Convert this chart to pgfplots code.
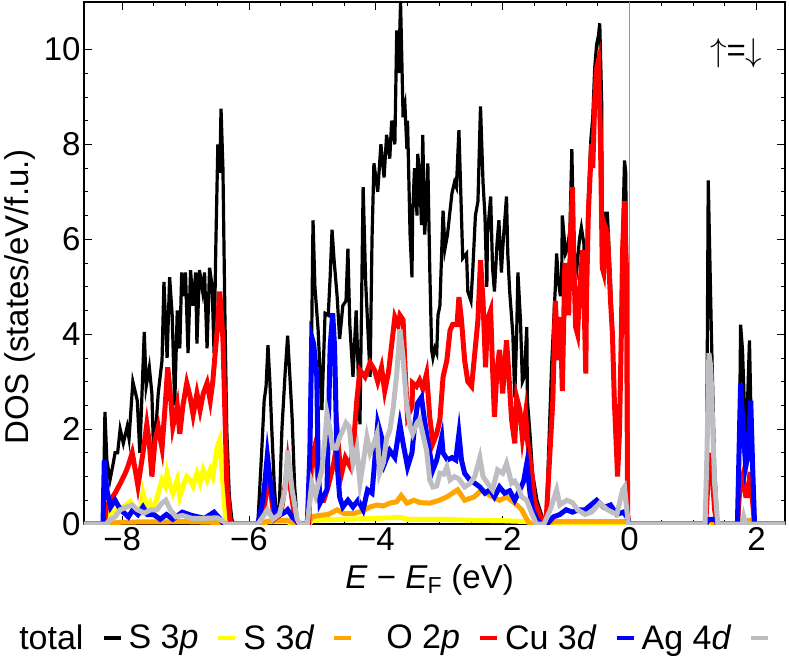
\RequirePackage{fix-cm}
\documentclass[border=0pt]{standalone}
\usepackage{fontspec}
\setmainfont{Liberation Sans}
\usepackage{pgfplots}
\pgfplotsset{compat=1.18}
\definecolor{cyel}{RGB}{255,255,0}
\definecolor{corange}{RGB}{255,165,0}
\definecolor{cred}{RGB}{255,0,0}
\definecolor{cblue}{RGB}{0,0,255}
\definecolor{cgray}{RGB}{190,190,194}
\definecolor{zeroline}{RGB}{150,150,150}
\newcommand{\bigfont}{\fontsize{33bp}{39bp}\selectfont}
\newcommand{\legfont}{\fontsize{34bp}{40bp}\selectfont}
\begin{document}
\begin{tikzpicture}
\useasboundingbox (-84bp,-132bp) rectangle (705bp,524bp);
\begin{axis}[
  scale only axis,
  width=701bp, height=522bp,
  xmin=-8.6, xmax=2.45, ymin=0, ymax=11,
  xtick={-8,-6,-4,-2,0,2},
  xticklabels={−8,−6,−4,−2,0,2},
  ytick={0,2,4,6,8,10},
  yticklabels={0,2,4,6,8,10},
  minor x tick num=3, minor y tick num=3,
  major tick length=8bp, minor tick length=4bp,
  tick style={black, line width=0.8bp},
  axis line style={line width=1.6bp},
  tick label style={font=\bigfont},
  label style={font=\bigfont},
  xlabel={\textit{E} − \textit{E}\textsubscript{F} (eV)},
  ylabel={DOS (states/eV/f.u.)},
  xlabel style={at={(axis description cs:0.493,-0.108)}, anchor=center},
  ylabel style={at={(axis description cs:-0.092,0.435)}, anchor=center},
  legend columns=6,
  legend plot pos=right,
  legend cell align=right,
  legend style={draw=none, fill=none, font=\legfont,
    at={(0.442,-0.185)}, anchor=north,
    nodes={inner sep=2bp},
    /tikz/every odd column/.append style={column sep=16bp},
    /tikz/every even column/.append style={column sep=4bp}},
  legend image code/.code={\draw[#1, line width=4bp] (0bp,0bp) -- (17bp,0bp);},
]
\addplot[zeroline, line width=1bp, forget plot] coordinates {(0,0) (0,11)};

% total
\addplot[black, line width=3.2bp] coordinates {
(-8.60,0) (-8.30,0) (-8.27,2.36) (-8.24,1.35) (-8.19,0.93) (-8.15,1.2) (-8.11,1.5) (-8.07,1.5) (-8.03,2.0) (-7.98,1.7) (-7.92,2.05) (-7.89,1.8) (-7.83,3.0) (-7.76,2.6) (-7.72,1.5) (-7.65,4.05) (-7.62,2.9) (-7.57,3.3) (-7.53,2.75) (-7.50,1.35) (-7.43,2.75) (-7.37,3.45) (-7.34,5.1) (-7.29,3.5) (-7.25,5.2) (-7.21,4.4) (-7.17,2.5) (-7.13,4.5) (-7.09,3.7) (-7.06,5.3) (-7.04,4.8) (-7.00,5.3) (-6.96,3.6) (-6.92,5.35) (-6.88,4.6) (-6.84,5.3) (-6.82,3.8) (-6.78,5.35) (-6.73,4.9) (-6.70,5.3) (-6.66,3.7) (-6.62,5.4) (-6.58,5.0) (-6.55,3.6) (-6.52,6.0) (-6.49,8.0) (-6.46,7.4) (-6.44,8.75) (-6.41,7.5) (-6.38,4.5) (-6.35,2.0) (-6.31,0.6) (-6.27,0.1) (-6.24,0)
(-5.86,0) (-5.80,1.5) (-5.76,2.6) (-5.73,2.9) (-5.70,3.77) (-5.67,3.0) (-5.64,2.0) (-5.60,0.8) (-5.56,0.05) (-5.52,0.4) (-5.48,2.0) (-5.43,3.17) (-5.39,3.97) (-5.35,3.0) (-5.32,2.26) (-5.28,0.8) (-5.24,0.08) (-5.20,0)
(-5.08,0) (-5.03,2.0) (-5.01,4.08) (-4.99,6.4) (-4.96,5.0) (-4.91,4.1) (-4.85,2.4) (-4.80,4.44) (-4.75,4.4) (-4.72,5.2) (-4.69,6.2) (-4.66,5.6) (-4.61,4.8) (-4.57,3.9) (-4.52,4.6) (-4.47,4.7) (-4.44,5.8) (-4.41,4.2) (-4.36,3.1) (-4.31,4.5) (-4.25,2.1) (-4.20,7.1) (-4.16,5.1) (-4.09,3.1) (-4.06,6.0) (-4.03,7.6) (-3.97,7.0) (-3.92,8.0) (-3.87,7.3) (-3.83,8.2) (-3.78,7.7) (-3.75,8.5) (-3.70,8.0) (-3.67,10.4) (-3.64,9.5) (-3.61,11.0) (-3.57,8.57) (-3.54,8.8) (-3.51,7.9) (-3.50,8.5) (-3.46,6.1) (-3.43,5.2) (-3.42,6.5) (-3.39,7.5) (-3.35,6.5) (-3.34,7.8) (-3.31,7.4) (-3.28,6.3) (-3.26,8.2) (-3.23,6.1) (-3.20,6.8) (-3.18,7.6) (-3.15,5.4) (-3.12,3.67) (-3.10,3.5) (-3.07,3.7) (-3.04,3.6) (-3.02,4.4) (-2.99,4.6) (-2.94,6.6) (-2.91,5.8) (-2.87,6.1) (-2.83,6.6) (-2.80,6.97) (-2.76,7.2) (-2.73,7.1) (-2.69,8.3) (-2.65,6.5) (-2.63,5.6) (-2.57,5.7) (-2.55,4.9) (-2.50,4.7) (-2.47,5.4) (-2.43,6.5) (-2.39,6.8) (-2.35,8.8) (-2.31,7.2) (-2.28,6.5) (-2.25,5.0) (-2.24,6.1) (-2.19,6.9) (-2.16,5.4) (-2.13,4.9) (-2.09,5.9) (-2.06,6.4) (-2.02,5.3) (-2.00,5.8) (-1.94,6.9) (-1.92,5.7) (-1.89,4.9) (-1.84,4.0) (-1.81,2.67) (-1.78,4.0) (-1.76,5.3) (-1.72,4.3) (-1.69,3.0) (-1.66,3.1) (-1.62,4.15) (-1.61,2.6) (-1.57,1.9) (-1.53,1.07) (-1.46,0.5) (-1.39,0.2) (-1.35,0.05)
(-1.31,0.2) (-1.23,3.3) (-1.17,5.0) (-1.15,5.7) (-1.12,5.1) (-1.09,4.8) (-1.07,5.2) (-1.06,6.5) (-1.01,5.7) (-0.98,5.8) (-0.94,6.2) (-0.91,7.9) (-0.90,7.2) (-0.88,5.8) (-0.83,5.4) (-0.79,6.0) (-0.76,6.25) (-0.72,5.9) (-0.69,4.0) (-0.66,6.5) (-0.61,8.1) (-0.58,8.57) (-0.55,9.6) (-0.52,10.1) (-0.49,10.3) (-0.47,10.55) (-0.44,8.9) (-0.43,6.1) (-0.41,5.5) (-0.38,6.55) (-0.35,6.55) (-0.30,5.1) (-0.27,4.0) (-0.24,2.6) (-0.20,1.4) (-0.19,1.05) (-0.16,1.95) (-0.13,4.1) (-0.11,6.0) (-0.08,7.66) (-0.06,7.4) (-0.05,5.5) (-0.03,0.2) (-0.01,0)
(1.18,0) (1.21,0.1) (1.24,7.24) (1.29,4.0) (1.34,1.2) (1.39,0) (1.70,0) (1.72,0.2) (1.75,4.2) (1.78,3.67) (1.83,1.7) (1.86,2.6) (1.89,3.87) (1.92,1.9) (1.97,0) (2.45,0)
};
\addlegendentry{total}

% yellow
\addplot[cyel, line width=5bp] coordinates {
(-8.60,0) (-8.28,0) (-8.19,0.23) (-8.08,0.3) (-7.98,0.36) (-7.87,0.47) (-7.80,0.3) (-7.72,0.23) (-7.67,0.65) (-7.61,0.33) (-7.56,0.45) (-7.51,0.25) (-7.43,0.65) (-7.37,0.93) (-7.32,0.8) (-7.29,1.07) (-7.24,0.8) (-7.20,0.65) (-7.13,0.93) (-7.09,0.58) (-7.04,0.8) (-6.98,1.0) (-6.93,0.93) (-6.88,0.8) (-6.82,1.07) (-6.77,0.87) (-6.72,1.14) (-6.66,0.93) (-6.61,1.14) (-6.57,1.0) (-6.50,1.62) (-6.46,1.77) (-6.43,1.2) (-6.38,0.3) (-6.35,0)
(-5.80,0) (-5.70,0.05) (-5.40,0.05) (-5.30,0) (-5.05,0) (-5.00,0.08) (-4.50,0.1) (-4.00,0.12) (-3.60,0.14) (-3.50,0.1) (-3.00,0.1) (-2.50,0.08) (-2.00,0.07) (-1.60,0.05) (-1.50,0) (2.45,0)
};
\addlegendentry{S 3\textit{p}}

% orange
\addplot[corange, line width=5bp] coordinates {
(-8.60,0) (-8.30,0) (-8.00,0.04) (-7.00,0.05) (-6.40,0.03) (-6.30,0) (-5.85,0) (-5.70,0.06) (-5.40,0.08) (-5.25,0)
(-5.06,0) (-5.01,0.15) (-4.90,0.18) (-4.75,0.2) (-4.61,0.3) (-4.50,0.22) (-4.35,0.22) (-4.20,0.28) (-4.09,0.36) (-3.98,0.4) (-3.88,0.38) (-3.78,0.44) (-3.67,0.47) (-3.60,0.6) (-3.51,0.44) (-3.40,0.5) (-3.30,0.45) (-3.15,0.44) (-3.00,0.5) (-2.88,0.57) (-2.71,0.72) (-2.60,0.5) (-2.45,0.57) (-2.33,0.72) (-2.20,0.6) (-2.05,0.5) (-1.94,0.57) (-1.81,0.44) (-1.70,0.3) (-1.62,0.1) (-1.57,0)
(-1.30,0) (-1.20,0.05) (-0.50,0.05) (-0.02,0.05) (0.00,0) (1.20,0) (1.25,0.08) (1.35,0) (1.72,0) (1.75,0.05) (1.90,0.08) (1.97,0) (2.45,0)
};
\addlegendentry{S 3\textit{d}}

% red
\addplot[cred, line width=5bp] coordinates {
(-8.60,0) (-8.28,0) (-8.24,0.4) (-8.20,0.35) (-8.16,0.55) (-8.11,0.65) (-8.03,0.85) (-7.95,1.07) (-7.91,1.2) (-7.84,1.5) (-7.80,1.2) (-7.75,0.8) (-7.67,1.5) (-7.61,2.1) (-7.57,1.7) (-7.53,1.0) (-7.48,1.77) (-7.43,2.05) (-7.37,1.6) (-7.32,2.5) (-7.28,3.3) (-7.23,2.6) (-7.20,2.05) (-7.13,2.5) (-7.09,1.9) (-7.04,2.5) (-6.98,2.97) (-6.93,2.7) (-6.88,2.3) (-6.82,2.75) (-6.77,2.4) (-6.72,2.75) (-6.66,2.97) (-6.61,2.6) (-6.57,3.0) (-6.50,4.1) (-6.46,4.9) (-6.41,3.9) (-6.35,0.9) (-6.30,0.1) (-6.27,0)
(-5.86,0) (-5.76,0.3) (-5.72,0.8) (-5.69,1.0) (-5.65,0.6) (-5.60,0.1) (-5.50,0.2) (-5.43,0.8) (-5.39,1.3) (-5.35,0.8) (-5.28,0.15) (-5.22,0)
(-5.06,0) (-5.01,1.4) (-4.97,1.6) (-4.93,1.2) (-4.88,0.5) (-4.82,0.5) (-4.75,0.8) (-4.66,1.3) (-4.60,1.83) (-4.55,1.0) (-4.48,1.4) (-4.40,1.2) (-4.35,1.7) (-4.30,2.6) (-4.25,3.24) (-4.17,3.1) (-4.09,3.4) (-4.02,3.24) (-3.97,3.0) (-3.91,3.3) (-3.86,2.8) (-3.80,3.2) (-3.70,4.36) (-3.65,4.2) (-3.62,4.4) (-3.57,4.3) (-3.54,3.3) (-3.50,2.26) (-3.43,2.47) (-3.42,2.97) (-3.36,2.9) (-3.31,3.03) (-3.26,2.85) (-3.20,3.17) (-3.15,2.26) (-3.10,1.7) (-3.04,1.9) (-2.99,2.2) (-2.94,3.1) (-2.88,3.45) (-2.83,4.08) (-2.79,4.2) (-2.72,4.2) (-2.69,4.78) (-2.65,4.3) (-2.60,3.45) (-2.55,3.0) (-2.49,2.9) (-2.44,3.6) (-2.39,4.3) (-2.35,5.56) (-2.31,4.7) (-2.27,3.3) (-2.24,4.3) (-2.19,4.5) (-2.16,3.3) (-2.13,2.26) (-2.09,3.24) (-2.05,3.67) (-2.00,2.75) (-1.94,3.87) (-1.91,3.3) (-1.86,2.2) (-1.81,1.7) (-1.78,2.67) (-1.73,2.4) (-1.69,1.83) (-1.64,2.33) (-1.61,1.77) (-1.54,1.07) (-1.50,0.5) (-1.42,0.2) (-1.36,0.02)
(-1.31,0.2) (-1.21,2.6) (-1.17,4.7) (-1.13,3.45) (-1.09,4.36) (-1.06,2.8) (-1.02,5.5) (-0.99,4.7) (-0.96,4.4) (-0.93,6.1) (-0.90,7.1) (-0.88,5.56) (-0.85,4.15) (-0.82,4.0) (-0.79,4.86) (-0.74,5.77) (-0.72,4.86) (-0.69,3.17) (-0.68,4.7) (-0.65,6.55) (-0.60,8.0) (-0.58,7.5) (-0.55,8.9) (-0.52,9.6) (-0.49,9.77) (-0.46,8.2) (-0.43,5.4) (-0.41,5.3) (-0.38,6.25) (-0.35,6.13) (-0.30,4.7) (-0.27,4.0) (-0.24,2.6) (-0.20,1.35) (-0.19,1.0) (-0.16,1.9) (-0.13,4.0) (-0.11,5.77) (-0.08,6.8) (-0.05,5.4) (-0.03,0.2) (-0.01,0)
(1.20,0) (1.24,1.0) (1.28,1.5) (1.34,0.3) (1.38,0) (1.70,0) (1.74,0.8) (1.78,1.0) (1.83,0.6) (1.86,0.6) (1.90,1.1) (1.95,0.3) (1.97,0) (2.45,0)
};
\addlegendentry{\hspace{27bp}O 2\textit{p}}

% blue
\addplot[cblue, line width=5bp] coordinates {
(-8.60,0) (-8.30,0) (-8.28,1.35) (-8.24,0.72) (-8.18,0.36) (-8.11,0.5) (-8.05,0.36) (-7.98,0.25) (-7.90,0.15) (-7.83,0.3) (-7.75,0.2) (-7.67,0.36) (-7.60,0.2) (-7.50,0.2) (-7.40,0.1) (-7.30,0.2) (-7.20,0.1) (-7.05,0.25) (-6.90,0.18) (-6.70,0.12) (-6.55,0.25) (-6.45,0.1) (-6.40,0)
(-5.86,0) (-5.78,0.5) (-5.75,0.86) (-5.71,1.45) (-5.66,0.86) (-5.58,0.15) (-5.50,0.2) (-5.43,0.25) (-5.39,0.3) (-5.32,0.15) (-5.24,0.05) (-5.20,0)
(-5.08,0) (-5.04,1.5) (-5.01,3.94) (-4.98,3.8) (-4.93,3.1) (-4.91,1.28) (-4.88,0.44) (-4.83,0.57) (-4.77,0.72) (-4.72,3.73) (-4.68,4.44) (-4.65,3.73) (-4.61,1.28) (-4.57,0.57) (-4.52,0.36) (-4.44,0.5) (-4.36,0.36) (-4.28,0.5) (-4.20,0.3) (-4.13,0.72) (-4.06,0.65) (-4.02,1.28) (-3.97,2.13) (-3.91,1.83) (-3.86,1.28) (-3.78,1.55) (-3.70,1.4) (-3.62,2.1) (-3.57,1.7) (-3.50,1.2) (-3.43,1.5) (-3.39,2.05) (-3.34,2.55) (-3.28,2.67) (-3.24,2.26) (-3.20,1.9) (-3.15,1.5) (-3.10,1.14) (-3.04,1.35) (-2.96,1.83) (-2.94,1.5) (-2.87,1.35) (-2.80,1.4) (-2.74,1.35) (-2.69,1.9) (-2.65,1.35) (-2.60,1.07) (-2.52,0.93) (-2.44,0.86) (-2.36,0.78) (-2.28,0.65) (-2.20,0.72) (-2.13,0.57) (-2.05,0.78) (-1.97,0.65) (-1.89,0.7) (-1.81,0.5) (-1.73,0.72) (-1.67,0.9) (-1.62,1.28) (-1.57,0.65) (-1.53,0.3) (-1.46,0.1) (-1.40,0)
(-1.30,0) (-1.20,0.15) (-1.10,0.2) (-1.00,0.3) (-0.90,0.25) (-0.80,0.3) (-0.70,0.3) (-0.52,0.5) (-0.40,0.35) (-0.30,0.4) (-0.20,0.2) (-0.10,0.25) (-0.04,0.15) (0.00,0)
(1.20,0) (1.25,0.1) (1.35,0.1) (1.40,0) (1.70,0) (1.75,2.97) (1.78,2.26) (1.83,1.2) (1.86,1.4) (1.91,2.6) (1.94,1.2) (1.97,0) (2.45,0)
};
\addlegendentry{Cu 3\textit{d}}

% gray
\addplot[cgray, line width=5bp] coordinates {
(-8.60,0) (-8.25,0) (-8.18,0.1) (-8.11,0.15) (-8.03,0.3) (-7.92,0.36) (-7.84,0.4) (-7.76,0.3) (-7.65,0.23) (-7.55,0.3) (-7.45,0.3) (-7.37,0.44) (-7.31,0.5) (-7.24,0.3) (-7.15,0.15) (-7.05,0.18) (-6.90,0.12) (-6.70,0.12) (-6.50,0.13) (-6.40,0.05) (-6.35,0)
(-5.86,0) (-5.78,0.15) (-5.71,0.3) (-5.62,0.1) (-5.52,0.2) (-5.43,0.72) (-5.39,1.55) (-5.32,0.72) (-5.24,0.1) (-5.20,0)
(-5.08,0) (-5.01,0.86) (-4.95,0.6) (-4.85,1.14) (-4.80,1.83) (-4.77,2.33) (-4.72,1.97) (-4.68,1.6) (-4.62,1.6) (-4.57,1.83) (-4.52,1.97) (-4.47,2.13) (-4.42,2.05) (-4.36,1.28) (-4.30,1.6) (-4.25,0.86) (-4.20,1.28) (-4.14,1.83) (-4.09,1.5) (-4.03,1.7) (-3.98,1.9) (-3.94,1.07) (-3.88,1.3) (-3.83,1.8) (-3.78,1.97) (-3.73,2.4) (-3.67,3.17) (-3.62,4.1) (-3.57,3.5) (-3.52,2.6) (-3.46,2.05) (-3.42,1.9) (-3.35,2.13) (-3.31,2.2) (-3.26,1.9) (-3.20,1.55) (-3.15,0.93) (-3.10,0.78) (-3.04,0.8) (-2.99,1.07) (-2.93,1.05) (-2.88,1.2) (-2.83,0.93) (-2.76,1.0) (-2.69,0.95) (-2.60,0.78) (-2.52,0.85) (-2.44,1.0) (-2.36,1.4) (-2.31,1.0) (-2.24,0.86) (-2.16,0.72) (-2.08,1.14) (-2.00,1.07) (-1.94,1.28) (-1.86,0.86) (-1.81,0.9) (-1.76,0.78) (-1.70,0.57) (-1.62,0.5) (-1.55,0.25) (-1.47,0)
(-1.35,0) (-1.25,0.3) (-1.15,0.72) (-1.10,0.4) (-0.99,0.5) (-0.90,0.45) (-0.82,0.3) (-0.70,0.2) (-0.60,0.25) (-0.47,0.44) (-0.35,0.3) (-0.20,0.2) (-0.11,0.72) (-0.08,0.78) (-0.06,0.5) (-0.02,0)
(1.19,0) (1.22,1.5) (1.25,3.6) (1.28,3.3) (1.34,0.86) (1.39,0) (1.78,0) (1.80,0.15) (1.83,0) (2.45,0)
};
\addlegendentry{Ag 4\textit{d}}

\node[font=\bigfont] at (axis cs:1.68,9.93) {$\uparrow$=$\downarrow$};
\end{axis}
\end{tikzpicture}
\end{document}
